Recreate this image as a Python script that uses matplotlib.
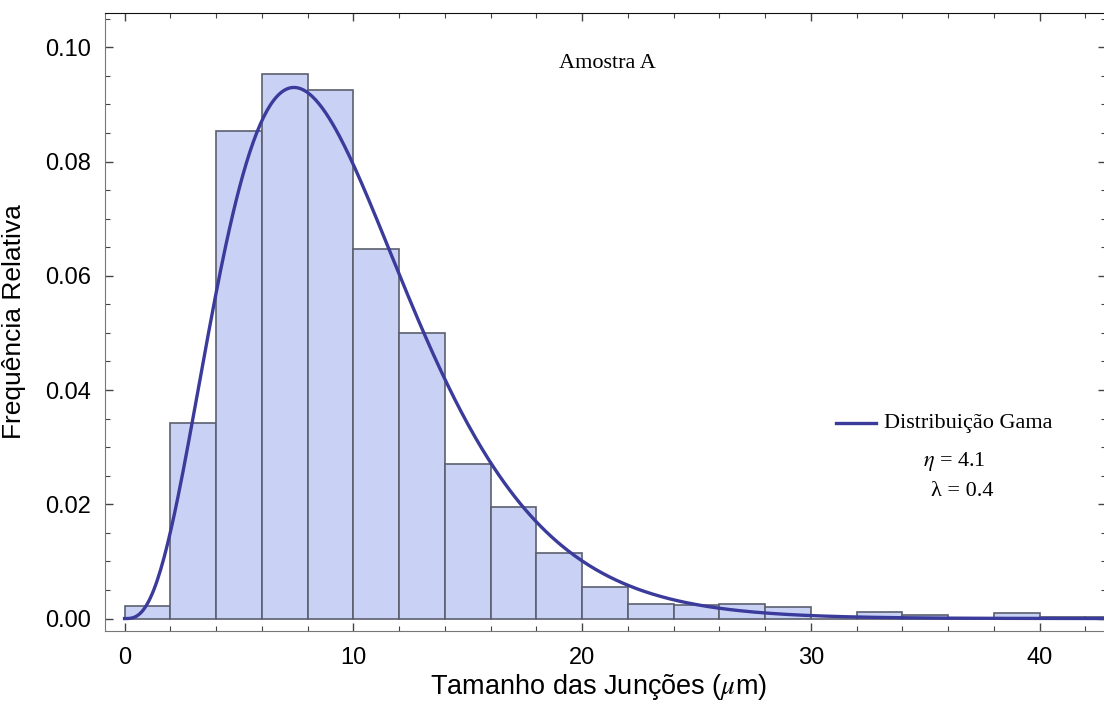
import numpy as np
import matplotlib
matplotlib.use("Agg")
import matplotlib.pyplot as plt
from matplotlib.ticker import MultipleLocator
from math import gamma as gamma_fn

# relative frequency per 2 µm bin
bin_edges = np.arange(0, 46, 2)
rel_freq = [0.0022, 0.0342, 0.0854, 0.0953, 0.0925, 0.0647, 0.0500, 0.0271,
            0.0195, 0.0115, 0.0055, 0.0025, 0.0024, 0.0025, 0.0021, 0.0,
            0.0012, 0.0006, 0.0, 0.0010, 0.0003, 0.0002]

# fitted gamma parameters (shape eta, rate lambda)
eta = 4.14
lam = 0.424

plt.rcParams['font.family'] = ['Liberation Sans', 'DejaVu Sans']
plt.rcParams['mathtext.fontset'] = 'stix'

fig = plt.figure(figsize=(11.04, 7.07), dpi=100)
ax = fig.add_axes([0.0947, 0.1079, 0.9071, 0.8737])

ax.bar(bin_edges[:-1], rel_freq, width=2, align='edge',
       color='#c9d2f4', edgecolor='#5b5f6e', linewidth=1.2, zorder=2)

xs = np.linspace(0, 45, 600)
pdf = lam * (lam * xs) ** (eta - 1) * np.exp(-lam * xs) / gamma_fn(eta)
ax.plot(xs, pdf, color='#3b3b9c', linewidth=2.4, zorder=3)

ax.set_xlim(-0.874, 42.9)
ax.set_ylim(-0.00213, 0.1060)

ax.xaxis.set_major_locator(MultipleLocator(10))
ax.xaxis.set_minor_locator(MultipleLocator(2))
ax.yaxis.set_major_locator(MultipleLocator(0.02))
ax.yaxis.set_minor_locator(MultipleLocator(0.005))
ax.yaxis.set_major_formatter(matplotlib.ticker.FormatStrFormatter('%.2f'))

ax.tick_params(which='both', direction='in', top=True, right=True,
               labelsize=17, color='#444444')
ax.tick_params(axis='x', pad=12)
ax.tick_params(axis='y', pad=10)
ax.tick_params(which='major', length=6, width=1)
ax.tick_params(which='minor', length=3.5, width=0.8)
for side in ['left', 'bottom']:
    ax.spines[side].set_color('#777777')
for side in ['top', 'right']:
    ax.spines[side].set_color('#111111')

ax.set_xlabel('Tamanho das Junções ($\\mu$m)', fontsize=19.5)
ax.set_ylabel('Frequência Relativa', fontsize=19)
ax.xaxis.set_label_coords(0.493, -0.067)
ax.yaxis.set_label_coords(-0.078, 0.5)

serif = ['Liberation Serif', 'DejaVu Serif']
ax.text(21.1, 0.0972, 'Amostra A', family=serif, fontsize=16,
        ha='center', va='center')

ax.plot([31.1, 32.85], [0.0342, 0.0342], color='#3b3b9c', linewidth=2.4)
ax.text(33.2, 0.0342, 'Distribuição Gama', family=serif, fontsize=16,
        ha='left', va='center')
ax.text(34.9, 0.0275, '$\\eta$ = 4.1', family=serif, fontsize=16,
        ha='left', va='center')
ax.text(35.25, 0.0222, 'λ = 0.4', family=serif, fontsize=16,
        ha='left', va='center')

fig.savefig('out.png', dpi=100)
